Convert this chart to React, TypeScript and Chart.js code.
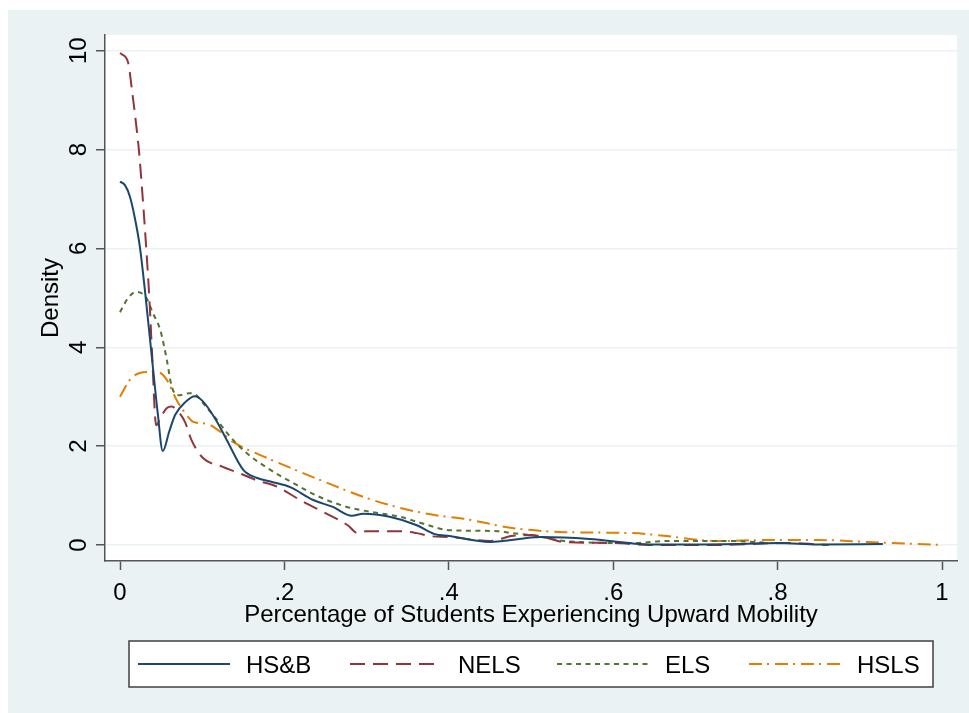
import React, { useEffect, useRef } from 'react';
import { Chart, registerables } from 'chart.js';

Chart.register(...registerables);

// ---------- data ----------
const seriesNames = ['HS&B', 'NELS', 'ELS', 'HSLS'];

const hsbX = [0, 0.006, 0.012, 0.018, 0.024, 0.03, 0.04, 0.046, 0.052, 0.06, 0.067, 0.08, 0.091, 0.1, 0.116, 0.13, 0.15, 0.166, 0.186, 0.207, 0.235, 0.259, 0.282, 0.296, 0.328, 0.361, 0.383, 0.401, 0.45, 0.512, 0.571, 0.624, 0.645, 0.7, 0.75, 0.8, 0.85, 0.928];
const hsbY = [7.35, 7.28, 7.05, 6.62, 6.05, 5.2, 3.6, 2.65, 1.9, 2.3, 2.63, 2.9, 3.01, 2.92, 2.55, 2.12, 1.52, 1.36, 1.27, 1.17, 0.91, 0.77, 0.59, 0.63, 0.57, 0.4, 0.22, 0.18, 0.06, 0.16, 0.12, 0.03, 0.01, 0.01, 0.02, 0.04, 0.01, 0.02];

const nelsX = [0, 0.002, 0.01, 0.015, 0.019, 0.023, 0.026, 0.031, 0.036, 0.039, 0.044, 0.05, 0.057, 0.063, 0.069, 0.079, 0.087, 0.101, 0.125, 0.15, 0.166, 0.191, 0.219, 0.247, 0.277, 0.289, 0.3, 0.341, 0.361, 0.377, 0.401, 0.451, 0.476, 0.5, 0.52, 0.54, 0.6, 0.645, 0.73, 0.81, 0.862];
const nelsY = [9.95, 9.93, 9.75, 9.14, 8.6, 7.99, 7.38, 6.23, 4.9, 3.88, 2.42, 2.6, 2.77, 2.8, 2.73, 2.49, 2.12, 1.76, 1.58, 1.42, 1.31, 1.18, 0.91, 0.67, 0.4, 0.24, 0.28, 0.28, 0.24, 0.18, 0.16, 0.08, 0.18, 0.2, 0.14, 0.06, 0.04, 0.0, 0.0, 0.04, 0.0];

const elsX = [0, 0.01, 0.02, 0.032, 0.04, 0.049, 0.057, 0.063, 0.071, 0.085, 0.093, 0.101, 0.118, 0.134, 0.154, 0.179, 0.211, 0.243, 0.276, 0.312, 0.341, 0.365, 0.401, 0.46, 0.476, 0.5, 0.541, 0.624, 0.665, 0.747, 0.79];
const elsY = [4.71, 5.0, 5.12, 5.0, 4.69, 4.35, 3.74, 3.2, 3.03, 3.07, 3.03, 2.87, 2.53, 2.19, 1.86, 1.56, 1.25, 0.97, 0.77, 0.65, 0.57, 0.45, 0.3, 0.28, 0.24, 0.2, 0.08, 0.04, 0.08, 0.08, 0.04];

const hslsX = [0, 0.012, 0.024, 0.036, 0.049, 0.057, 0.069, 0.081, 0.089, 0.106, 0.122, 0.138, 0.179, 0.219, 0.259, 0.3, 0.341, 0.381, 0.418, 0.479, 0.541, 0.624, 0.665, 0.726, 0.788, 0.85, 0.91, 1.0];
const hslsY = [3.0, 3.34, 3.48, 3.5, 3.48, 3.34, 2.93, 2.63, 2.49, 2.45, 2.29, 2.08, 1.76, 1.48, 1.21, 0.95, 0.75, 0.61, 0.53, 0.34, 0.26, 0.24, 0.18, 0.08, 0.1, 0.1, 0.06, 0.0];

const xTicks = [0, 0.2, 0.4, 0.6, 0.8, 1];
const xTickLabels = ['0', '.2', '.4', '.6', '.8', '1'];
const yTicks = [0, 2, 4, 6, 8, 10];
const yTickLabels = ['0', '2', '4', '6', '8', '10'];
const xTitle = 'Percentage of Students Experiencing Upward Mobility';
const yTitle = 'Density';

// ---------- style ----------
const colors = ['#1a476f', '#90353b', '#55752f', '#e37e00'];
const dashes: number[][] = [[], [15, 8], [5, 4.5], [13, 5, 2, 6]];
const FONT = '24px "Liberation Sans", Arial, sans-serif';
const BG = '#eaf2f3';
const AXIS = '#555555';

const toPts = (xs: number[], ys: number[]) => xs.map((x, i) => ({ x, y: ys[i] }));
const seriesData = [toPts(hsbX, hsbY), toPts(nelsX, nelsY), toPts(elsX, elsY), toPts(hslsX, hslsY)];

const decoPlugin = {
  id: 'deco',
  beforeDraw(chart: any) {
    const { ctx, chartArea: a } = chart;
    ctx.save();
    ctx.fillStyle = '#ffffff';
    ctx.fillRect(0, 0, chart.width, chart.height);
    ctx.fillStyle = BG;
    ctx.fillRect(8, 10, chart.width - 8, chart.height - 10);
    ctx.fillStyle = '#ffffff';
    ctx.fillRect(a.left, a.top, a.right - a.left, a.bottom - a.top);
    ctx.restore();
  },
  afterDraw(chart: any) {
    const { ctx, chartArea: a } = chart;
    const xs = chart.scales.x;
    const ys = chart.scales.y;
    ctx.save();
    ctx.font = FONT;
    ctx.fillStyle = '#000000';
    ctx.textBaseline = 'alphabetic';
    // y tick labels (rotated)
    yTicks.forEach((v, i) => {
      const p = ys.getPixelForValue(v);
      ctx.save();
      ctx.translate(ys.right - 19, p);
      ctx.rotate(-Math.PI / 2);
      ctx.textAlign = 'center';
      ctx.fillText(yTickLabels[i], 0, 0);
      ctx.restore();
    });
    // y title
    ctx.save();
    ctx.translate(58, (a.top + a.bottom) / 2);
    ctx.rotate(-Math.PI / 2);
    ctx.textAlign = 'center';
    ctx.fillText(yTitle, 0, 0);
    ctx.restore();
    // x tick labels
    ctx.textAlign = 'center';
    xTicks.forEach((v, i) => {
      ctx.fillText(xTickLabels[i], xs.getPixelForValue(v), xs.top + 39);
    });
    // x title
    ctx.fillText(xTitle, (a.left + a.right) / 2, xs.top + 61);

    // legend
    const bx = 129, by = 641, bw = 804, bh = 46;
    ctx.fillStyle = '#ffffff';
    ctx.fillRect(bx, by, bw, bh);
    ctx.strokeStyle = '#404040';
    ctx.lineWidth = 1.5;
    ctx.strokeRect(bx, by, bw, bh);
    const starts = [138, 350, 557, 749];
    const cy = by + bh / 2;
    chart.data.datasets.forEach((ds: any, i: number) => {
      const x0 = starts[i];
      ctx.save();
      ctx.strokeStyle = ds.borderColor;
      ctx.lineWidth = ds.borderWidth;
      ctx.setLineDash(ds.borderDash || []);
      ctx.beginPath();
      ctx.moveTo(x0, cy);
      ctx.lineTo(x0 + 92, cy);
      ctx.stroke();
      ctx.restore();
      ctx.fillStyle = '#000000';
      ctx.textAlign = 'left';
      ctx.fillText(ds.label, x0 + 108, cy + 8.6);
    });
    ctx.restore();
  },
};

export default function App() {
  const ref = useRef<HTMLCanvasElement | null>(null);
  useEffect(() => {
    if (!ref.current) return;
    const chart = new Chart(ref.current, {
      type: 'line',
      data: {
        datasets: seriesNames.map((name, i) => ({
          label: name,
          data: seriesData[i],
          borderColor: colors[i],
          backgroundColor: colors[i],
          borderWidth: 2,
          borderDash: dashes[i],
          pointRadius: 0,
          fill: false,
          cubicInterpolationMode: 'monotone' as const,
        })),
      },
      options: {
        animation: false,
        responsive: false,
        devicePixelRatio: 1,
        layout: { padding: { top: 35, right: 12, left: 0, bottom: 0 } },
        plugins: { legend: { display: false }, tooltip: { enabled: false } },
        scales: {
          x: {
            type: 'linear',
            min: -0.01825,
            max: 1.0182,
            afterBuildTicks: (s: any) => { s.ticks = xTicks.map((v) => ({ value: v })); },
            afterFit: (s: any) => { s.height = 152; },
            ticks: { display: false },
            grid: { drawOnChartArea: false, drawTicks: true, tickLength: 9, tickColor: AXIS, tickWidth: 1.5 },
            border: { color: AXIS, width: 1.5 },
          },
          y: {
            type: 'linear',
            min: -0.324,
            max: 10.317,
            afterBuildTicks: (s: any) => { s.ticks = yTicks.map((v) => ({ value: v })); },
            afterFit: (s: any) => { s.width = 105; },
            ticks: { display: false },
            grid: { color: BG, lineWidth: 1.5, drawTicks: true, tickLength: 9, tickColor: AXIS, tickWidth: 1.5 },
            border: { color: AXIS, width: 1.5 },
          },
        },
      },
      plugins: [decoPlugin],
    });
    return () => chart.destroy();
  }, []);
  return (
    <div style={{ position: 'absolute', left: 0, top: 0, width: 969, height: 713 }}>
      <canvas ref={ref} width={969} height={713} style={{ display: 'block' }} />
    </div>
  );
}
